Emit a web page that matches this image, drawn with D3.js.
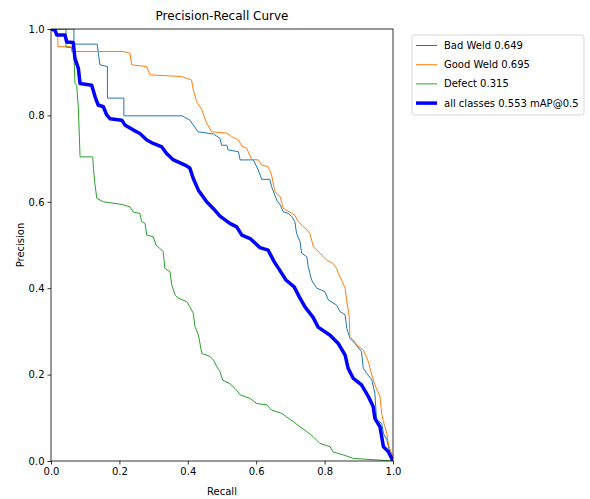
<!DOCTYPE html>
<html lang="en">
<head>
<meta charset="UTF-8">
<title>Precision-Recall Curve</title>
<script src="https://d3js.org/d3.v7.min.js"></script>
<style>
    body { margin: 0; background: #fff; }
    text { font-family: "DejaVu Sans", sans-serif; fill: #000; }
</style>
</head>
<body>
<svg width="590" height="499"></svg>
<script>
// recall, precision pairs
var badWeld = [
    [0, 1], [0.067, 1], [0.067, 0.965], [0.135, 0.965], [0.143, 0.917], [0.165, 0.913],
    [0.165, 0.84], [0.213, 0.84], [0.213, 0.799], [0.383, 0.799], [0.406, 0.789], [0.43, 0.762],
    [0.475, 0.757], [0.494, 0.747], [0.499, 0.731], [0.514, 0.731], [0.518, 0.72], [0.548, 0.716],
    [0.553, 0.697], [0.592, 0.697], [0.599, 0.685], [0.606, 0.674], [0.616, 0.652], [0.64, 0.652],
    [0.645, 0.635], [0.66, 0.604], [0.67, 0.593], [0.679, 0.577], [0.694, 0.573], [0.704, 0.566],
    [0.713, 0.554], [0.718, 0.527], [0.728, 0.508], [0.733, 0.481], [0.748, 0.473], [0.752, 0.45],
    [0.757, 0.434], [0.762, 0.419], [0.777, 0.4], [0.801, 0.392], [0.811, 0.373], [0.835, 0.361],
    [0.845, 0.346], [0.86, 0.338], [0.865, 0.307], [0.874, 0.284], [0.889, 0.272], [0.908, 0.253],
    [0.913, 0.215], [0.923, 0.203], [0.938, 0.188], [0.947, 0.157], [0.952, 0.095], [0.967, 0.087],
    [0.972, 0.064], [0.982, 0.049], [0.991, 0.018], [1, 0]
];
var goodWeld = [
    [0, 1], [0.02, 0.99], [0.02, 0.959], [0.06, 0.959], [0.06, 0.948], [0.211, 0.948],
    [0.231, 0.944], [0.236, 0.917], [0.28, 0.913], [0.289, 0.894], [0.382, 0.89], [0.411, 0.882],
    [0.416, 0.859], [0.426, 0.832], [0.441, 0.813], [0.455, 0.782], [0.47, 0.762], [0.514, 0.759],
    [0.528, 0.751], [0.548, 0.743], [0.558, 0.729], [0.572, 0.724], [0.587, 0.698], [0.606, 0.697],
    [0.616, 0.685], [0.635, 0.681], [0.645, 0.662], [0.655, 0.623], [0.67, 0.612], [0.679, 0.585],
    [0.704, 0.573], [0.713, 0.569], [0.723, 0.554], [0.743, 0.539], [0.757, 0.527], [0.767, 0.496],
    [0.787, 0.481], [0.806, 0.465], [0.825, 0.457], [0.835, 0.446], [0.84, 0.434], [0.85, 0.419],
    [0.86, 0.4], [0.865, 0.369], [0.872, 0.334], [0.874, 0.288], [0.884, 0.28], [0.899, 0.265],
    [0.913, 0.257], [0.928, 0.23], [0.938, 0.199], [0.947, 0.176], [0.962, 0.149], [0.967, 0.11],
    [0.972, 0.091], [0.982, 0.064], [0.987, 0.037], [0.996, 0.018], [1, 0]
];
var defect = [
    [0, 1], [0.044, 1], [0.044, 0.958], [0.065, 0.956], [0.067, 0.94], [0.07, 0.874],
    [0.075, 0.87], [0.08, 0.817], [0.085, 0.704], [0.122, 0.704], [0.124, 0.677], [0.129, 0.638],
    [0.134, 0.608], [0.153, 0.6], [0.207, 0.594], [0.231, 0.588], [0.241, 0.576], [0.26, 0.573],
    [0.265, 0.554], [0.275, 0.55], [0.28, 0.523], [0.299, 0.519], [0.307, 0.5], [0.328, 0.485],
    [0.333, 0.446], [0.348, 0.438], [0.353, 0.408], [0.363, 0.384], [0.372, 0.377], [0.397, 0.369],
    [0.406, 0.357], [0.416, 0.342], [0.421, 0.311], [0.431, 0.292], [0.441, 0.249], [0.465, 0.242],
    [0.475, 0.234], [0.485, 0.218], [0.494, 0.207], [0.502, 0.187], [0.523, 0.179], [0.543, 0.164],
    [0.553, 0.153], [0.582, 0.145], [0.602, 0.133], [0.631, 0.13], [0.645, 0.118], [0.675, 0.11],
    [0.689, 0.102], [0.709, 0.091], [0.728, 0.079], [0.748, 0.068], [0.767, 0.056], [0.786, 0.041],
    [0.816, 0.033], [0.825, 0.021], [0.855, 0.014], [0.884, 0.006], [0.924, 0.004], [0.962, 0.002],
    [1, 0]
];
var allClasses = [
    [0, 1], [0.012, 0.997], [0.017, 0.986], [0.041, 0.986], [0.046, 0.97], [0.065, 0.969],
    [0.07, 0.932], [0.08, 0.909], [0.085, 0.874], [0.119, 0.87], [0.129, 0.843], [0.138, 0.824],
    [0.153, 0.82], [0.163, 0.801], [0.173, 0.792], [0.207, 0.789], [0.216, 0.778], [0.241, 0.766],
    [0.26, 0.758], [0.28, 0.743], [0.299, 0.735], [0.324, 0.727], [0.338, 0.712], [0.358, 0.697],
    [0.392, 0.685], [0.406, 0.678], [0.416, 0.654], [0.431, 0.627], [0.455, 0.6], [0.475, 0.584],
    [0.494, 0.567], [0.523, 0.55], [0.543, 0.542], [0.558, 0.523], [0.582, 0.515], [0.611, 0.494],
    [0.635, 0.488], [0.652, 0.462], [0.67, 0.44], [0.687, 0.419], [0.711, 0.403], [0.726, 0.38],
    [0.743, 0.356], [0.766, 0.333], [0.781, 0.31], [0.816, 0.291], [0.84, 0.272], [0.86, 0.245],
    [0.869, 0.214], [0.884, 0.191], [0.908, 0.176], [0.928, 0.149], [0.942, 0.126], [0.947, 0.099],
    [0.962, 0.079], [0.967, 0.056], [0.972, 0.033], [0.986, 0.022], [1, 0]
];

var seriesNames = ["Bad Weld 0.649", "Good Weld 0.695", "Defect 0.315", "all classes 0.553 mAP@0.5"];
var tickValues = [0, 0.2, 0.4, 0.6, 0.8, 1.0];

var series = [
    {name: seriesNames[0], values: badWeld, color: "#1f77b4", width: 1},
    {name: seriesNames[1], values: goodWeld, color: "#ff7f0e", width: 1},
    {name: seriesNames[2], values: defect, color: "#2ca02c", width: 1},
    {name: seriesNames[3], values: allClasses, color: "#0000ff", width: 3.5}
];

var margin = {top: 29, left: 51};
var plotW = 342, plotH = 432;
var svg = d3.select("svg");
var g = svg.append("g").attr("transform", "translate(" + margin.left + "," + margin.top + ")");

var x = d3.scaleLinear().domain([0, 1]).range([0, plotW]);
var y = d3.scaleLinear().domain([0, 1]).range([plotH, 0]);

svg.append("defs").append("clipPath").attr("id", "plotclip")
    .append("rect").attr("width", plotW).attr("height", plotH);

var line = d3.line()
    .x(function(d) { return x(d[0]); })
    .y(function(d) { return y(d[1]); });

g.append("g").attr("clip-path", "url(#plotclip)")
    .selectAll("path")
    .data(series)
    .enter()
    .append("path")
    .attr("d", function(d) { return line(d.values); })
    .attr("fill", "none")
    .attr("stroke", function(d) { return d.color; })
    .attr("stroke-width", function(d) { return d.width; })
    .attr("stroke-linejoin", "round");

// axes
var xAxis = g.append("g").attr("transform", "translate(0," + plotH + ")")
    .call(d3.axisBottom(x).tickValues(tickValues).tickFormat(d3.format(".1f")).tickSize(3.5).tickPadding(3));
var yAxis = g.append("g")
    .call(d3.axisLeft(y).tickValues(tickValues).tickFormat(d3.format(".1f")).tickSize(3.5).tickPadding(3));
[xAxis, yAxis].forEach(function(a) {
    a.select(".domain").remove();
    a.selectAll("text").style("font-family", "DejaVu Sans").style("font-size", "10px").attr("fill", "#000");
    a.selectAll("line").attr("stroke", "#000").attr("stroke-width", 0.8);
});

// spines
g.append("rect")
    .attr("width", plotW).attr("height", plotH)
    .attr("fill", "none").attr("stroke", "#000").attr("stroke-width", 0.8);

// title and labels
svg.append("text")
    .attr("x", margin.left + plotW / 2).attr("y", 20)
    .attr("text-anchor", "middle").style("font-size", "12px")
    .text("Precision-Recall Curve");
svg.append("text")
    .attr("x", margin.left + plotW / 2).attr("y", 495)
    .attr("text-anchor", "middle").style("font-size", "10px")
    .text("Recall");
svg.append("text")
    .attr("transform", "translate(24," + (margin.top + plotH / 2) + ") rotate(-90)")
    .attr("text-anchor", "middle").style("font-size", "10px")
    .text("Precision");

// legend
var legend = svg.append("g").attr("transform", "translate(412,35)");
legend.append("rect")
    .attr("width", 172).attr("height", 80).attr("rx", 2.5)
    .attr("fill", "#fff").attr("fill-opacity", 0.8)
    .attr("stroke", "#ccc").attr("stroke-width", 0.8);
var items = legend.selectAll(".item")
    .data(series)
    .enter()
    .append("g")
    .attr("class", "item")
    .attr("transform", function(d, i) { return "translate(0," + (10.5 + i * 19.2) + ")"; });
items.append("line")
    .attr("x1", 4).attr("x2", 25)
    .attr("stroke", function(d) { return d.color; })
    .attr("stroke-width", function(d) { return d.width; });
items.append("text")
    .attr("x", 32).attr("dy", "0.35em")
    .style("font-size", "10px")
    .text(function(d) { return d.name; });
</script>
</body>
</html>
